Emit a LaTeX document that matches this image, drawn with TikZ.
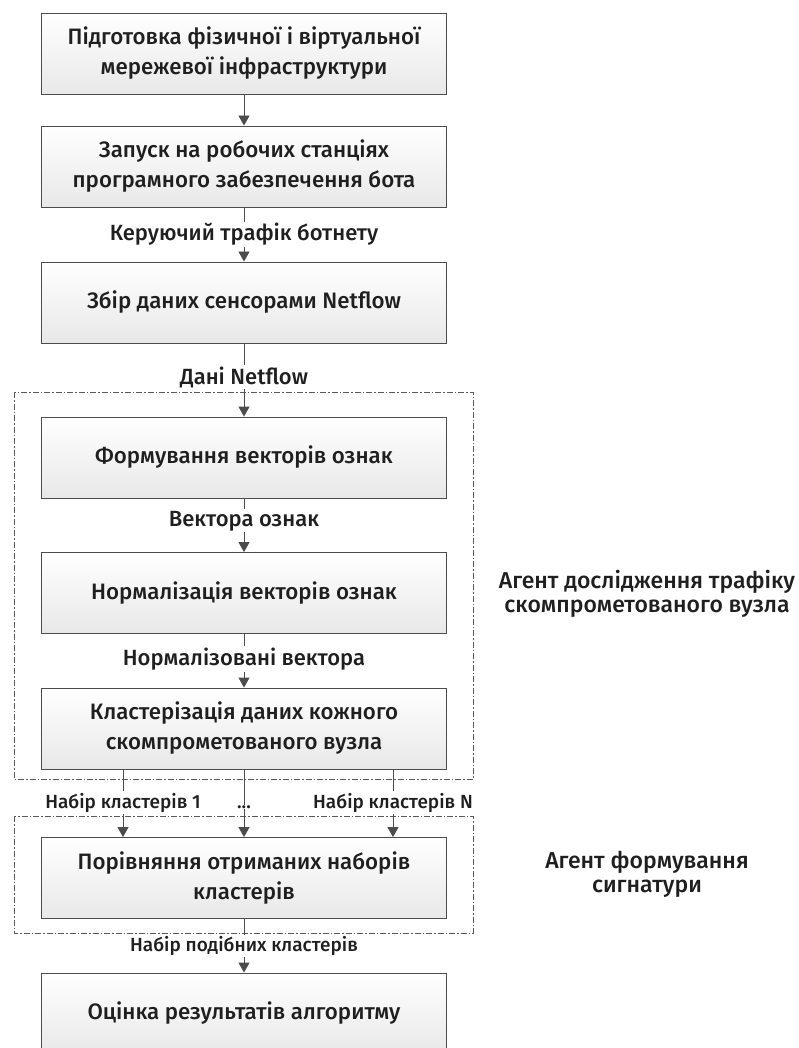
\documentclass[tikz,border=0pt]{standalone}
\usepackage{fontspec}
\setmainfont{Fira Sans}[UprightFont={* Medium}]
\usetikzlibrary{arrows.meta}

\tikzset{
  stepbox/.style={draw=black!70, line width=0.9pt, top color=white, bottom color=black!9,
    minimum width=405pt, minimum height=81pt, align=center,
    font=\fontsize{22.3}{30}\selectfont, text=black!88},
  flow/.style={draw=black!70, line width=0.9pt, -{Triangle[width=11pt,length=10pt]}},
  lbl/.style={fill=white, inner sep=1.5pt, font=\fontsize{22}{24}\selectfont, text=black!88},
  smlbl/.style={fill=white, inner sep=1.5pt, font=\fontsize{19}{21}\selectfont, text=black!88},
  group/.style={draw=black!65, line width=0.8pt, dash pattern=on 6pt off 2pt on 1.5pt off 2pt},
  agent/.style={align=center, font=\fontsize{23}{24}\selectfont, text=black!88},
}

\begin{document}
\begin{tikzpicture}[x=1pt, y=-1pt]
  \useasboundingbox (0,0) rectangle (799,1048);
  \clip (0,0) rectangle (799,1048);

  % group frames
  \draw[group] (14,392) rectangle (473,779);
  \draw[group] (14,816) rectangle (473,933);

  % process steps
  \node[stepbox] (b1) at (244,53.5) {Підготовка фізичної і віртуальної\\мережевої інфраструктури};
  \node[stepbox] (b2) at (244,166.5) {Запуск на робочих станціях\\програмного забезпечення бота};
  \node[stepbox] (b3) at (244,302.5) {Збір даних сенсорами Netflow};
  \node[stepbox] (b4) at (244,457.5) {Формування векторів ознак};
  \node[stepbox] (b5) at (244,593) {Нормалізація векторів ознак};
  \node[stepbox] (b6) at (244,728.5) {Кластерізація даних кожного\\скомпрометованого вузла};
  \node[stepbox] (b7) at (244,878) {Порівняння отриманих наборів\\кластерів};
  \node[stepbox] (b8) at (244,1013.5) {Оцінка результатів алгоритму};

  % main chain
  \draw[flow] (b1) -- (b2);
  \draw[flow] (b2) -- node[lbl, pos=0.5] {Керуючий трафік ботнету} (b3);
  \draw[flow] (b3) -- node[lbl, pos=0.46] {Дані Netflow} (b4);
  \draw[flow] (b4) -- node[lbl, pos=0.42] {Вектора ознак} (b5);
  \draw[flow] (b5) -- node[lbl, pos=0.47] {Нормалізовані вектора} (b6);

  % cluster sets
  \coordinate (c1) at (123,0);
  \coordinate (cN) at (393,0);
  \draw[flow] (b6.south -| c1) -- node[smlbl, pos=0.49] {Набір кластерів 1} (b7.north -| c1);
  \draw[flow] (b6) -- node[smlbl, pos=0.56, inner sep=0.5pt] {...} (b7);
  \draw[flow] (b6.south -| cN) -- node[smlbl, pos=0.49] {Набір кластерів N} (b7.north -| cN);

  \draw[flow] (b7) -- node[smlbl, pos=0.5] {Набір подібних кластерів} (b8);

  % agent captions
  \node[agent] (a1) at (647,594) {Агент дослідження трафіку\\скомпрометованого вузла};
  \node[agent] (a2) at (647,874) {Агент формування\\сигнатури};
\end{tikzpicture}
\end{document}
